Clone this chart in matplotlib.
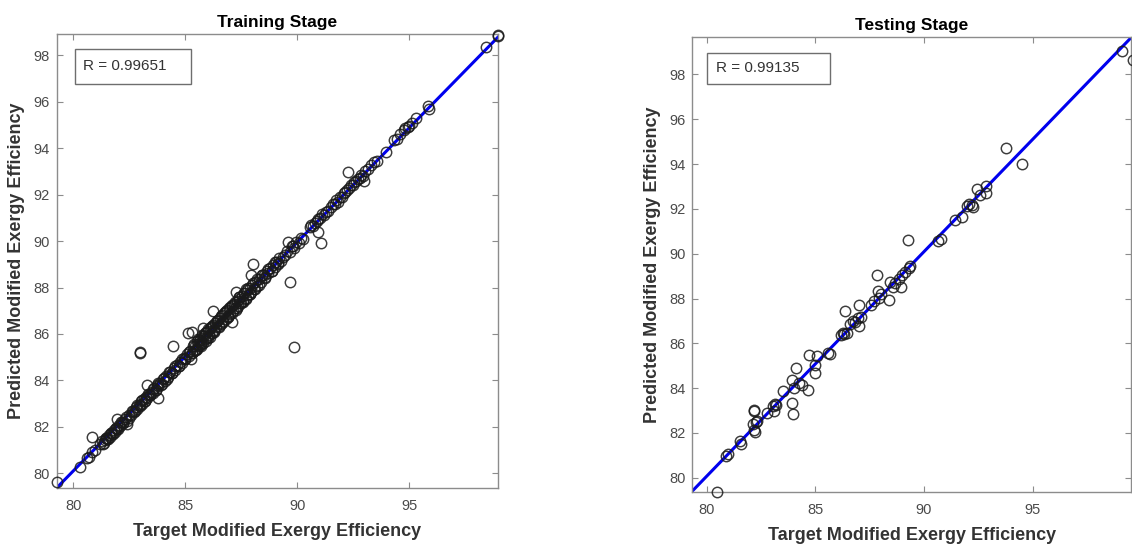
import numpy as np
import matplotlib
matplotlib.use('Agg')
import matplotlib.pyplot as plt
from matplotlib.patches import Rectangle

plt.rcParams['font.family'] = ['Liberation Sans', 'DejaVu Sans']

# training set: target vs. network output
train_target = [
    79.26, 80.30, 80.62, 80.71, 80.85, 80.97, 80.82, 81.19, 81.93, 82.38, 82.97, 82.99, 83.28, 83.76,
    84.46, 85.12, 85.30, 85.23, 85.72, 85.79, 86.24, 87.10, 87.28, 88.02, 87.94, 89.68, 89.87, 89.58,
    89.82, 90.91, 91.06, 92.25, 92.99, 93.96, 94.82, 94.92, 95.81, 95.89, 98.41, 98.93, 98.95,
    81.30, 81.36, 81.42, 81.47, 81.52, 81.58, 81.63, 81.69, 81.74, 81.80, 81.85, 81.91, 81.97, 82.03,
    82.10, 82.17, 82.24, 82.31, 82.39, 82.47, 82.56, 82.65, 82.74,
    82.80, 82.86, 82.92, 82.97, 83.03, 83.08, 83.14, 83.20, 83.25, 83.31, 83.37, 83.43, 83.49, 83.55,
    83.61, 83.67, 83.73, 83.80, 83.87, 83.94, 84.01, 84.08, 84.15, 84.23, 84.31, 84.40,
    84.48, 84.55, 84.62, 84.70, 84.78, 84.85, 84.93, 85.00, 85.08, 85.15, 85.22, 85.28,
    85.33, 85.38, 85.43, 85.47, 85.52, 85.56, 85.61, 85.65, 85.70, 85.74, 85.79, 85.83, 85.88, 85.93,
    85.97, 86.02, 86.07, 86.12, 86.17, 86.22, 86.27, 86.32, 86.37, 86.42, 86.48, 86.53, 86.58, 86.64,
    86.69, 86.74, 86.80, 86.85, 86.90, 86.96, 87.01, 87.07, 87.12, 87.18, 87.23, 87.29, 87.34, 87.40,
    87.46, 87.51, 87.57, 87.63, 87.69, 87.75, 87.81, 87.87, 87.93, 87.99, 88.06, 88.13, 88.20, 88.28,
    88.36, 88.44,
    85.45, 85.58, 85.72, 85.86, 86.00, 86.14, 86.28, 86.44, 86.60, 86.76, 86.92, 87.08, 87.24, 87.40,
    87.56, 87.72, 87.88,
    88.50, 88.57, 88.64, 88.71, 88.78, 88.85, 88.92, 88.99, 89.06, 89.13, 89.20, 89.28, 89.36,
    89.45, 89.55, 89.65, 89.75, 89.85, 89.95, 90.05, 90.15, 90.25,
    90.55, 90.62, 90.70, 90.78, 90.86, 90.94, 91.02, 91.10, 91.18, 91.26, 91.35,
    91.50, 91.58, 91.66, 91.74, 91.82, 91.90, 91.98, 92.06, 92.14, 92.22,
    92.30, 92.38, 92.46, 92.54, 92.62, 92.70, 92.78, 92.86, 92.94, 93.02,
    93.15, 93.30, 93.42, 93.55,
    94.30, 94.45, 94.60, 94.75, 95.00, 95.10, 95.30,
    81.33, 81.45, 81.56, 81.67, 81.78, 81.89, 82.00, 82.12, 82.24, 82.36, 82.48, 82.60, 82.72, 82.84,
    82.96, 83.08, 83.20, 83.32, 83.44, 83.56, 83.68, 83.80, 83.92, 84.04, 84.16, 84.28, 84.40, 84.55,
    84.70, 84.85, 85.00, 85.15, 85.30, 85.40, 85.50, 85.60, 85.70, 85.80, 85.90, 86.00, 86.10, 86.20,
    86.30, 86.40, 86.50, 86.60, 86.70, 86.80, 86.90, 87.00, 87.10, 87.20, 87.30, 87.40, 87.50, 87.60,
    87.70, 87.80, 87.90, 88.00, 88.10, 88.20, 88.30, 88.40, 88.55, 88.70, 88.85, 89.00, 89.15,
]
train_pred = [
    79.63, 80.25, 80.64, 80.70, 80.92, 81.00, 81.56, 81.27, 82.34, 82.12, 85.24, 85.20, 83.78, 83.26,
    85.50, 86.06, 86.08, 84.92, 85.50, 86.25, 87.00, 86.52, 87.82, 89.01, 88.55, 88.22, 85.42, 89.96,
    89.80, 90.40, 89.93, 92.98, 92.58, 93.85, 94.85, 94.90, 95.84, 95.68, 98.37, 98.86, 98.82,
    81.38, 81.30, 81.45, 81.52, 81.47, 81.63, 81.58, 81.72, 81.68, 81.85, 81.79, 81.96, 81.90, 82.08,
    82.02, 82.20, 82.15, 82.35, 82.26, 82.50, 82.52, 82.70, 82.68,
    82.85, 82.78, 82.95, 82.92, 83.10, 83.00, 83.18, 83.12, 83.30, 83.22, 83.42, 83.35, 83.52, 83.46,
    83.66, 83.58, 83.78, 83.74, 83.90, 83.86, 84.05, 83.98, 84.20, 84.16, 84.36, 84.33,
    84.52, 84.45, 84.66, 84.62, 84.80, 84.74, 84.98, 84.93, 85.12, 85.06, 85.27, 85.20,
    85.48, 85.28, 85.48, 85.30, 85.70, 85.56, 85.50, 85.75, 85.65, 85.96, 85.62, 85.92, 85.80, 86.10,
    85.85, 86.20, 85.95, 86.26, 86.05, 86.38, 86.15, 86.45, 86.30, 86.55, 86.35, 86.70, 86.45, 86.80,
    86.55, 86.90, 86.66, 87.02, 86.76, 87.10, 86.88, 87.22, 86.98, 87.30, 87.10, 87.42, 87.20, 87.52,
    87.32, 87.64, 87.42, 87.75, 87.55, 87.88, 87.66, 87.98, 87.80, 88.10, 87.92, 88.25, 88.05, 88.38,
    88.22, 88.55,
    85.30, 85.78, 85.55, 86.05, 85.82, 86.32, 86.10, 86.62, 86.42, 86.95, 86.75, 87.25, 87.05, 87.58,
    87.38, 87.92, 87.70,
    88.55, 88.45, 88.70, 88.62, 88.85, 88.72, 88.98, 88.88, 89.12, 89.02, 89.25, 89.15, 89.30,
    89.40, 89.58, 89.55, 89.78, 89.70, 89.98, 89.92, 90.15, 90.10,
    90.60, 90.68, 90.66, 90.80, 90.85, 90.95, 91.00, 91.15, 91.12, 91.25, 91.30,
    91.45, 91.60, 91.58, 91.75, 91.70, 91.88, 91.92, 92.05, 92.10, 92.20,
    92.28, 92.40, 92.42, 92.55, 92.58, 92.68, 92.72, 92.85, 92.80, 93.00,
    93.10, 93.28, 93.40, 93.45,
    94.35, 94.40, 94.60, 94.78, 94.95, 95.10, 95.30,
    81.26, 81.50, 81.48, 81.74, 81.70, 81.95, 81.92, 82.20, 82.15, 82.44, 82.38, 82.66, 82.62, 82.92,
    82.88, 83.15, 83.12, 83.40, 83.35, 83.62, 83.58, 83.88, 83.82, 84.12, 84.05, 84.35, 84.30, 84.62,
    84.60, 84.92, 84.90, 85.22, 85.18, 85.55, 85.35, 85.68, 85.55, 85.90, 85.70, 86.12, 85.88, 86.35,
    86.12, 86.55, 86.32, 86.78, 86.52, 86.98, 86.72, 87.18, 86.92, 87.38, 87.12, 87.58, 87.32, 87.78,
    87.52, 87.98, 87.72, 88.18, 87.92, 88.38, 88.12, 88.55, 88.42, 88.78, 88.72, 89.10, 89.05,
]

# testing set
test_target = [
    80.45, 80.90, 80.99, 81.53, 81.58, 82.17, 82.19, 82.11, 82.24, 82.30, 82.19, 82.22, 82.77,
    83.05, 83.13, 83.17, 83.08, 83.52, 83.91, 83.94, 83.97, 84.02, 84.11, 84.22, 84.38, 84.64,
    84.72, 84.96, 84.99, 85.08, 85.58, 85.65, 86.18, 86.27, 86.33, 86.43, 86.36, 86.61, 86.72,
    86.83, 86.96, 87.02, 87.00, 87.11, 87.58, 87.68, 87.82, 87.87, 87.93, 88.02, 88.37, 88.44,
    88.55, 88.68, 88.83, 88.96, 88.99, 89.12, 89.27, 89.30, 89.34, 90.63, 90.79, 91.42, 91.73,
    91.96, 92.20, 92.24, 92.09, 92.46, 92.59, 92.84, 92.87, 93.79, 94.53, 99.11, 99.60,
]
test_pred = [
    79.38, 80.98, 81.05, 81.64, 81.52, 82.99, 83.01, 82.42, 82.48, 82.54, 82.14, 82.06, 82.87,
    83.22, 83.30, 83.26, 82.99, 83.88, 84.36, 83.35, 82.84, 84.00, 84.90, 84.23, 84.16, 83.94,
    85.47, 84.67, 85.05, 85.43, 85.58, 85.52, 86.36, 86.45, 86.40, 86.45, 87.44, 86.87, 87.02,
    86.95, 87.13, 86.76, 87.72, 87.18, 87.69, 87.88, 89.07, 88.34, 88.03, 88.19, 87.95, 88.73,
    88.53, 88.68, 88.88, 88.53, 89.04, 89.19, 90.62, 89.35, 89.46, 90.56, 90.64, 91.52, 91.66,
    92.14, 92.19, 92.09, 92.22, 92.87, 92.60, 93.02, 92.71, 94.73, 94.00, 99.04, 98.65,
]

# fitted line (slope, intercept) and correlation for each stage
train_fit = [0.986, 1.22]
test_fit = [1.0015, -0.04]
train_r = 0.99651
test_r = 0.99135

train_xlim = (79.26, 98.95)
train_ylim = (79.35, 98.92)
test_xlim = (79.33, 99.55)
test_ylim = (79.38, 99.66)

x_ticks = [80, 85, 90, 95]
y_ticks = [80, 82, 84, 86, 88, 90, 92, 94, 96, 98]

fig = plt.figure(figsize=(11.32, 5.45), dpi=100)
ax1 = fig.add_axes([0.0501, 0.1040, 0.3898, 0.8336])
ax2 = fig.add_axes([0.6116, 0.0978, 0.3879, 0.8338])

spine_col = '#8c8c8c'
label_col = '#4a4a4a'


def draw_panel(ax, target, pred, fit, r, xlim, ylim, title, box):
    xs = np.array(xlim)
    ax.plot(xs, fit[0] * xs + fit[1], color='#0000ee', lw=2.2, zorder=2)
    ax.plot(target, pred, 'o', mfc='none', mec='#1a1a1a', mew=1.05, ms=7.5,
            alpha=0.85, zorder=3, clip_on=False)
    ax.set_xlim(xlim)
    ax.set_ylim(ylim)
    ax.set_xticks(x_ticks)
    ax.set_yticks(y_ticks)
    ax.tick_params(direction='in', top=True, right=True, length=4, width=0.8,
                   color=spine_col, labelcolor=label_col, labelsize=10.5)
    ax.tick_params(axis='x', pad=8)
    ax.tick_params(axis='y', pad=5)
    for s in ax.spines.values():
        s.set_color(spine_col)
        s.set_linewidth(1.0)
    ax.set_title(title, fontsize=12.5, fontweight='bold', pad=5)
    ax.set_xlabel('Target Modified Exergy Efficiency', fontsize=13, fontweight='bold',
                  color='#333333', labelpad=7)
    ax.set_ylabel('Predicted Modified Exergy Efficiency', fontsize=13, fontweight='bold',
                  color='#333333', labelpad=6)
    bx, by, bw, bh, tx = box
    ax.add_patch(Rectangle((bx, by), bw, bh, transform=ax.transAxes, fc='white',
                           ec='#6e6e6e', lw=1.0, zorder=4))
    ax.text(tx, by + bh / 2, 'R = %.5f' % r, transform=ax.transAxes, fontsize=11,
            color='#333333', va='center', ha='left', zorder=5)


draw_panel(ax1, train_target, train_pred, train_fit, train_r, train_xlim, train_ylim,
           'Training Stage', (0.042, 0.890, 0.262, 0.078, 0.060))
draw_panel(ax2, test_target, test_pred, test_fit, test_r, test_xlim, test_ylim,
           'Testing Stage', (0.033, 0.898, 0.280, 0.067, 0.053))

fig.savefig('out.png', dpi=100)
